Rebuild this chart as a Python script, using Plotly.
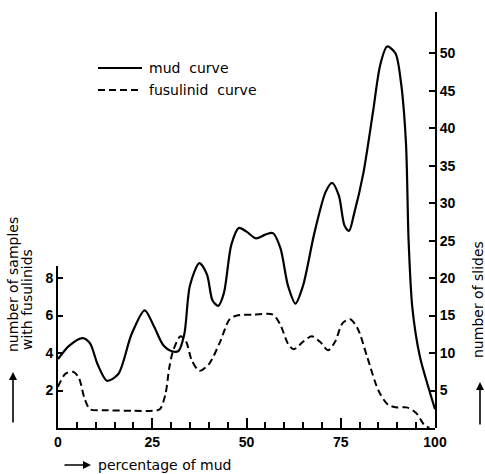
import plotly.graph_objects as go

# ---- data ----
mud_x = [0, 3, 6.5, 8.5, 10.5, 13, 16, 19.5, 23, 25.5, 28, 30.5, 32, 33.5, 35, 37.5,
         39.5, 41, 42.5, 44, 46, 48, 50, 52.5, 55, 57, 59, 61, 63, 65, 68, 71, 72.7,
         74.5, 76, 77.2, 78.5, 81, 83.5, 85.5, 87.3, 89.5, 91, 92.3, 93, 94, 96, 98.5, 100]
mud_y = [9.2, 11.0, 12.0, 11.3, 8.5, 6.3, 7.2, 12.5, 15.7, 13.5, 11.0, 10.2, 10.3, 12.5,
         19.0, 22.0, 20.5, 17.0, 16.3, 18.0, 24.5, 26.7, 26.2, 25.3, 25.8, 26.0, 24.0,
         19.0, 16.6, 19.0, 26.0, 31.5, 32.7, 31.0, 27.0, 26.3, 28.5, 34.0, 42.0, 48.5,
         50.9, 50.0, 46.0, 38.0, 25.0, 16.0, 9.5, 5.0, 2.5]

fus_x = [0, 2, 4, 5.5, 7, 8.5, 12, 20, 25, 27, 28.5, 29.5, 30.5, 32.5, 34, 35.5, 37.5,
         40, 43, 45.5, 47.5, 52, 57, 59, 61, 62.5, 65, 67.3, 69.5, 71.6, 73.5, 75.5,
         77.5, 79.5, 82, 85, 87.5, 90, 92.5, 95, 97, 98.5]
fus_y = [2.2, 2.9, 3.0, 2.7, 1.6, 1.0, 0.95, 0.92, 0.92, 1.0, 1.8, 3.2, 4.1, 4.9, 4.6,
         3.6, 3.05, 3.4, 4.6, 5.8, 6.0, 6.05, 6.05, 5.5, 4.5, 4.2, 4.6, 4.9, 4.6, 4.15,
         4.6, 5.6, 5.8, 5.3, 3.8, 2.0, 1.25, 1.1, 1.1, 0.8, 0.2, 0.0]

x_ticks = [0, 25, 50, 75, 100]
left_ticks = [2, 4, 6, 8]
right_ticks = [5, 10, 15, 20, 25, 30, 35, 40, 45, 50]

W, H = 485, 474
L, R, T, B = 58, 50, 12, 46
PW, PH = W - L - R, H - T - B


def px(x):
    return (x - L) / PW


def py(y):
    return (H - B - y) / PH


TXT = "DejaVu Sans"
NUM = "Liberation Sans"
numfont = dict(family=NUM, size=14, color="black", weight="bold")

fig = go.Figure()
fig.add_trace(go.Scatter(x=fus_x, y=fus_y, mode="lines", xaxis="x", yaxis="y",
                         line=dict(color="black", width=2, dash="7px,4px", shape="spline", smoothing=0.8),
                         name="fusulinid curve", showlegend=False))
fig.add_trace(go.Scatter(x=mud_x, y=mud_y, mode="lines", xaxis="x", yaxis="y2",
                         line=dict(color="black", width=2.2, shape="spline", smoothing=0.8),
                         name="mud curve", showlegend=False))

right_top = 55.5
left_top = 8.65
fig.update_layout(
    width=W, height=H, margin=dict(l=L, r=R, t=T, b=B),
    paper_bgcolor="white", plot_bgcolor="rgba(0,0,0,0)",
    xaxis=dict(range=[0, 100], tickvals=x_ticks, ticks="inside", ticklen=10, tickwidth=1.5,
               tickcolor="black", showline=True, linecolor="black", linewidth=2,
               showgrid=False, zeroline=False, tickfont=numfont,
               minor=dict(ticks="inside", dtick=5, ticklen=6, tickwidth=1.5, tickcolor="black", showgrid=False)),
    yaxis=dict(domain=[0, left_top * 2.5 / right_top], range=[0, left_top], tickvals=left_ticks,
               ticks="inside", ticklen=5, tickwidth=1.5, tickcolor="black",
               showline=True, linecolor="black", linewidth=2, showgrid=False, zeroline=False,
               tickfont=numfont),
    yaxis2=dict(domain=[0, 1], range=[0, right_top], tickvals=right_ticks, anchor="x", side="right",
                ticks="inside", ticklen=6, tickwidth=1.5, tickcolor="black",
                showline=True, linecolor="black", linewidth=2, showgrid=False, zeroline=False,
                tickfont=numfont),
)

# legend drawn as lines + labels
fig.add_shape(type="line", xref="paper", yref="paper", x0=px(98), x1=px(142), y0=py(68), y1=py(68),
              line=dict(color="black", width=2))
fig.add_shape(type="line", xref="paper", yref="paper", x0=px(98), x1=px(142), y0=py(90), y1=py(90),
              line=dict(color="black", width=2, dash="7px,4px"))
fig.add_annotation(text="mud  curve", xref="paper", yref="paper", x=px(147), y=py(68),
                   xanchor="left", yanchor="middle", showarrow=False,
                   font=dict(family=TXT, size=14, color="black"))
fig.add_annotation(text="fusulinid  curve", xref="paper", yref="paper", x=px(147), y=py(90),
                   xanchor="left", yanchor="middle", showarrow=False,
                   font=dict(family=TXT, size=14, color="black"))

# axis titles
fig.add_annotation(text="percentage of mud", xref="paper", yref="paper", x=px(96), y=py(465),
                   xanchor="left", yanchor="middle", showarrow=False,
                   font=dict(family=TXT, size=14, color="black"))
fig.add_annotation(text="", xref="paper", yref="paper",
                   x=px(91), y=py(465), ax=-28, ay=0, showarrow=True, arrowhead=2,
                   arrowsize=1, arrowwidth=1.6, arrowcolor="black")

fig.add_annotation(text="number of samples", xref="paper", yref="paper", x=px(13), y=py(285),
                   textangle=-90, xanchor="center", yanchor="middle", showarrow=False,
                   font=dict(family=TXT, size=14, color="black"))
fig.add_annotation(text="with fusulinids", xref="paper", yref="paper", x=px(27), y=py(300),
                   textangle=-90, xanchor="center", yanchor="middle", showarrow=False,
                   font=dict(family=TXT, size=14, color="black"))
fig.add_annotation(text="", xref="paper", yref="paper", x=px(13), y=py(372), ax=0, ay=52,
                   showarrow=True, arrowhead=2, arrowsize=1, arrowwidth=1.6, arrowcolor="black")

fig.add_annotation(text="number of slides", xref="paper", yref="paper", x=px(478), y=py(300),
                   textangle=-90, xanchor="center", yanchor="middle", showarrow=False,
                   font=dict(family=TXT, size=14, color="black"))
fig.add_annotation(text="", xref="paper", yref="paper", x=px(480), y=py(382), ax=0, ay=44,
                   showarrow=True, arrowhead=2, arrowsize=1, arrowwidth=1.6, arrowcolor="black")

fig.write_html("out.html")
